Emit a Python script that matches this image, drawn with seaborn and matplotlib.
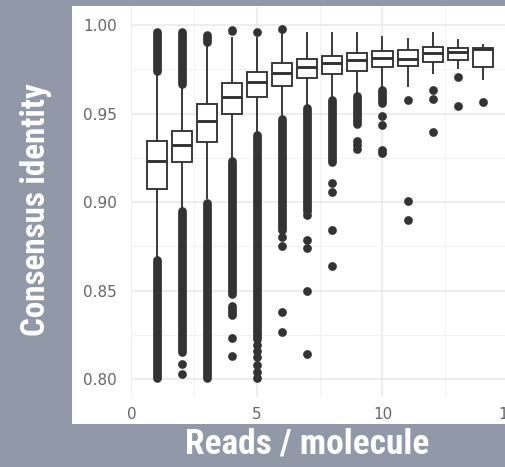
import numpy as np
import pandas as pd
import matplotlib
matplotlib.use("Agg")
import matplotlib.pyplot as plt
from matplotlib import font_manager
from matplotlib.patches import Rectangle
from matplotlib.ticker import FixedLocator, FormatStrFormatter
import seaborn as sns

# Reads per molecule (one box per consensus depth)
reads = [1, 2, 3, 4, 5, 6, 7, 8, 9, 10, 11, 12, 13, 14]

# Box summary per depth
whisker_low = [0.868, 0.896, 0.9015, 0.9235, 0.938, 0.9475, 0.9535,
               0.9575, 0.9605, 0.964, 0.965, 0.9724, 0.975, 0.969]
q1 = [0.9075, 0.9225, 0.9337, 0.9497, 0.9593, 0.9658, 0.970,
      0.9724, 0.9743, 0.9765, 0.9769, 0.9793, 0.9803, 0.9765]
median = [0.9234, 0.932, 0.9458, 0.9596, 0.9677, 0.9728, 0.9765,
          0.9786, 0.9803, 0.9812, 0.9808, 0.9844, 0.9848, 0.9865]
q3 = [0.9343, 0.940, 0.9553, 0.9672, 0.9737, 0.9784, 0.981,
      0.9825, 0.9844, 0.9853, 0.9859, 0.9874, 0.9869, 0.9872]
whisker_high = [0.973, 0.966, 0.988, 0.9935, 0.9935, 0.9962, 0.996,
                0.996, 0.996, 0.994, 0.9925, 0.9962, 0.9923, 0.989]

# Outliers packed so tightly they form solid runs: depth, lower end, upper end
run_x = [1, 1, 2, 2, 3, 3, 4, 4, 4, 5, 6, 7, 8, 9, 10]
run_lo = [0.9741, 0.8005, 0.9666, 0.8154, 0.9904, 0.8005, 0.9966, 0.8483,
          0.8362, 0.8226, 0.8845, 0.8952, 0.9228, 0.9441, 0.9560]
run_hi = [0.9959, 0.8673, 0.9959, 0.8952, 0.9945, 0.8996, 0.9972, 0.9230,
          0.8413, 0.9377, 0.9471, 0.9533, 0.9574, 0.9600, 0.9635]

# Separate outlier points
point_x = [2, 2,
           4, 4,
           5, 5, 5, 5, 5, 5, 5,
           6, 6, 6, 6, 6,
           7, 7, 7, 7, 7,
           8, 8, 8, 8,
           9, 9, 9,
           10, 10, 10, 10,
           11, 11, 11,
           12, 12, 12,
           13, 13,
           14]
point_y = [0.8089, 0.8028,
           0.8232, 0.8133,
           0.9959, 0.8191, 0.8158, 0.8124, 0.8080, 0.8041, 0.8007,
           0.9977, 0.8804, 0.8751, 0.8379, 0.8266,
           0.8930, 0.8789, 0.8742, 0.8497, 0.8141,
           0.9108, 0.9056, 0.8845, 0.8638,
           0.9347, 0.9325, 0.9302,
           0.9484, 0.9437, 0.9295, 0.9280,
           0.9578, 0.9005, 0.8902,
           0.9634, 0.9582, 0.9396,
           0.9706, 0.9544,
           0.9563]

x_ticks = [0, 5, 10, 15]
y_ticks = [0.80, 0.85, 0.90, 0.95, 1.00]
x_title = "Reads / molecule"
y_title = "Consensus identity"

# Five summary values per depth give seaborn exactly these quartiles
summary = pd.DataFrame({
    "reads": np.repeat(reads, 5),
    "identity": np.column_stack([whisker_low, q1, median, q3, whisker_high]).ravel(),
})
points = pd.DataFrame({"reads": point_x, "identity": point_y})


def pick_family(*names):
    available = {f.name for f in font_manager.fontManager.ttflist}
    for name in names:
        if name in available:
            return name
    return "DejaVu Sans"


sns.set_style("white")
title_family = pick_family("Liberation Sans Narrow", "Roboto Condensed",
                           "Open Sans Condensed", "Liberation Sans")
plt.rcParams["font.family"] = ["DejaVu Sans"]

W, H = 506, 467
slide = "#9198a7"
ink = "#333333"
fig = plt.figure(figsize=(W / 100, H / 100), dpi=100, facecolor=slide)

# white card holding the plot
fig.add_artist(Rectangle((72 / W, 43 / H), 434 / W, 418 / H,
                         transform=fig.transFigure, facecolor="white",
                         edgecolor="none", zorder=0))

px_per_unit = 25.1
x_lo, x_hi = -0.03, 15.4
ax = fig.add_axes([(131.5 + x_lo * px_per_unit) / W, 70 / H,
                   (x_hi - x_lo) * px_per_unit / W, 389.7 / H])
ax.set_facecolor("white")

dot_pt = 6.3
sns.boxplot(data=summary, x="reads", y="identity", native_scale=True,
            whis=np.inf, width=0.8, color="white", saturation=1,
            linecolor=ink, linewidth=1.35, showfliers=False,
            medianprops={"linewidth": 2.1, "color": ink},
            capprops={"visible": False}, ax=ax, zorder=3)

for x, lo, hi in zip(run_x, run_lo, run_hi):
    ax.plot([x, x], [lo, hi], color=ink, lw=dot_pt,
            solid_capstyle="round", zorder=2)

sns.scatterplot(data=points, x="reads", y="identity", ax=ax, color=ink,
                s=dot_pt ** 2, linewidth=0, zorder=2)

ax.set_xlim(x_lo, x_hi)
ax.set_ylim(0.79, 1.01)
ax.xaxis.set_major_locator(FixedLocator(x_ticks))
ax.xaxis.set_minor_locator(FixedLocator([2.5, 7.5, 12.5]))
ax.yaxis.set_major_locator(FixedLocator(y_ticks))
ax.yaxis.set_minor_locator(FixedLocator([0.825, 0.875, 0.925, 0.975]))
ax.yaxis.set_major_formatter(FormatStrFormatter("%.2f"))
ax.set_axisbelow(True)
ax.grid(which="major", color="#e8e8e8", linewidth=1.1)
ax.grid(which="minor", color="#f2f2f2", linewidth=0.8)
for s in ax.spines.values():
    s.set_visible(False)
ax.tick_params(which="both", length=0)
for lab in ax.get_xticklabels() + ax.get_yticklabels():
    lab.set_family("DejaVu Sans")
ax.tick_params(axis="y", pad=10, labelsize=11, labelcolor="#666666")
ax.tick_params(axis="x", pad=7, labelsize=11, labelcolor="#666666")
ax.set_xlabel("")
ax.set_ylabel("")

fig.text(307 / W, 1 - 444 / H, x_title, color="white", fontsize=25.5,
         fontweight="bold", family=[title_family, "DejaVu Sans"],
         ha="center", va="center")
fig.text(36.5 / W, 1 - 209.5 / H, y_title, color="white", fontsize=23.8,
         fontweight="bold", family=[title_family, "DejaVu Sans"],
         rotation=90, ha="center", va="center")

fig.savefig("out.png", dpi=100, facecolor=slide)
